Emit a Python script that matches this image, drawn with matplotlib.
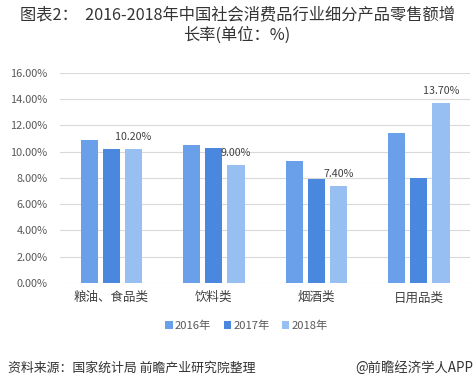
import matplotlib
matplotlib.use("Agg")
import matplotlib.pyplot as plt
import numpy as np

plt.rcParams['font.family'] = ['Noto Sans CJK SC', 'DejaVu Sans']

categories = ["粮油、食品类", "饮料类", "烟酒类", "日用品类"]
series_names = ["2016年", "2017年", "2018年"]
v2016 = [10.9, 10.5, 9.3, 11.4]
v2017 = [10.2, 10.3, 7.9, 8.0]
v2018 = [10.2, 9.0, 7.4, 13.7]
yticks = [0, 2, 4, 6, 8, 10, 12, 14, 16]
colors = ["#6aa0ea", "#4a88e0", "#98bff2"]

fig = plt.figure(figsize=(4.74, 3.89), dpi=100)
ax = fig.add_axes([0.1266, 0.2725, 0.865, 0.5405])

x = np.arange(len(categories))
w = 0.17
step = 0.215
allv = [v2016, v2017, v2018]
for i, (vals, c, n) in enumerate(zip(allv, colors, series_names)):
    bars = ax.bar(x + (i - 1) * step, vals, width=w, color=c, label=n, zorder=3)
    if i == 2:
        for b, v in zip(bars, vals):
            ax.annotate(f"{v:.2f}%", (b.get_x() + b.get_width() / 2, v),
                        xytext=(0, 5), textcoords="offset points",
                        ha="center", va="bottom", fontsize=7.7, color="#404040")

ax.set_xlim(-0.5, len(categories) - 0.5)
ax.set_ylim(0, 16)
ax.set_yticks(yticks)
ax.set_yticklabels([f"{t:.2f}%" for t in yticks])
ax.set_xticks(x)
ax.set_xticklabels(categories)
ax.tick_params(axis='y', length=0, labelsize=7.9, colors="#595959", pad=9)
ax.tick_params(axis='x', length=0, labelsize=9, colors="#404040", pad=6)
ax.grid(axis='y', color="#d9d9d9", linewidth=0.8, zorder=0)
for s in ax.spines.values():
    s.set_visible(False)

fig.text(0.5, 0.962, "图表2：  2016-2018年中国社会消费品行业细分产品零售额增",
         ha="center", va="center", fontsize=11.7, color="#333333")
fig.text(0.5, 0.910, "长率(单位：%)", ha="center", va="center",
         fontsize=11.7, color="#333333")

leg = fig.legend(loc="center", bbox_to_anchor=(0.52, 0.162), ncol=3,
                 frameon=False, fontsize=8.1, handlelength=0.65, handleheight=0.65,
                 handletextpad=0.2, columnspacing=1.1)
for t in leg.get_texts():
    t.set_color("#595959")

fig.text(0.017, 0.054, "资料来源：国家统计局 前瞻产业研究院整理", ha="left", va="center",
         fontsize=9.3, style="italic", color="#333333")
fig.text(0.998, 0.054, "@前瞻经济学人APP", ha="right", va="center",
         fontsize=9.6, color="#333333")

fig.savefig("out.png", dpi=100)
